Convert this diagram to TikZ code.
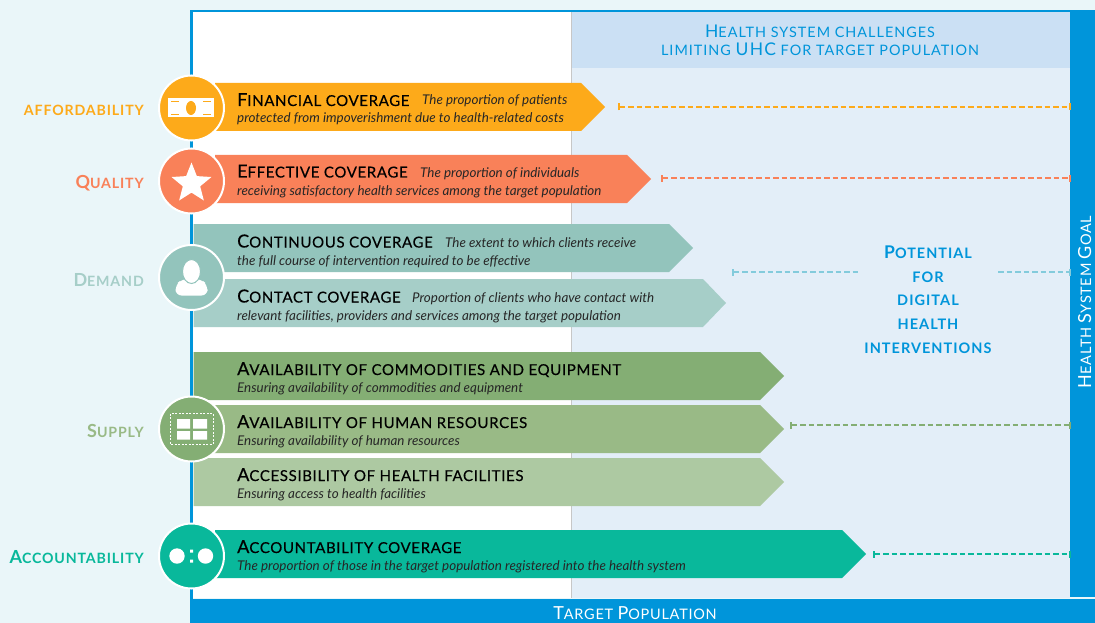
\documentclass[tikz,border=0pt]{standalone}
\usepackage{fontspec}
\usetikzlibrary{arrows.meta,shapes.geometric}
\setmainfont{Lato}
\newfontfamily\titlefont[LetterSpace=4.3,FakeBold=0.35]{Lato}
\newfontfamily\whitefont[LetterSpace=5]{Lato}
\newfontfamily\labelfont[LetterSpace=6,BoldFont={Lato Bold}]{Lato}
\newfontfamily\panelfont[LetterSpace=7]{Lato}
\newcommand\capt[2]{{\fontsize{18}{18}\selectfont #1}{\fontsize{15}{15}\selectfont #2}}
\newcommand\caph[2]{{\fontsize{17.5}{17.5}\selectfont #1}{\fontsize{14.4}{14.4}\selectfont #2}}
\newcommand\capl[2]{{\fontsize{18}{18}\selectfont #1}{\fontsize{14.2}{14.2}\selectfont #2}}
\newcommand\capw[2]{{\fontsize{18}{18}\selectfont #1}{\fontsize{14.5}{14.5}\selectfont #2}}
\newcommand\bandshape[5]{\fill[#1] (#2,#3) -- (#4,#3) -- (#5,#3+24) -- (#4,#3+48) -- (#2,#3+48) -- cycle;}
\definecolor{cBlue}{HTML}{0095DA}
\definecolor{cPage}{HTML}{EAF6F9}
\definecolor{cPanel}{HTML}{E3EEF8}
\definecolor{cHead}{HTML}{CBE0F4}
\definecolor{cOrange}{HTML}{FDAA1A}
\definecolor{cCoral}{HTML}{F98159}
\definecolor{cTeal}{HTML}{93C4BC}
\definecolor{cTealL}{HTML}{A6CEC8}
\definecolor{cGreen}{HTML}{84AE74}
\definecolor{cGreenM}{HTML}{99BA86}
\definecolor{cGreenL}{HTML}{ADC9A2}
\definecolor{cAcc}{HTML}{09B89B}
\definecolor{cDash}{HTML}{83CBDC}
\tikzset{
 titletext/.style={anchor=base west,inner sep=0pt,text=black,font=\titlefont},
 desctext/.style={anchor=base west,inner sep=0pt,text=black!85,font=\itshape\fontsize{13.4}{13.4}\selectfont},
 sidelabel/.style={anchor=base east,inner sep=0pt,font=\labelfont\bfseries},
 iconring/.style={circle,draw=white,line width=2pt,minimum size=65pt,inner sep=0pt},
 gapline/.style={dash pattern=on 5.5pt off 3pt,line width=2pt,{Bar[width=7pt,length=1.5pt]}-{Bar[width=7pt,length=1.5pt]}},
 gapfree/.style={dash pattern=on 5.5pt off 3pt,line width=2pt},
 panelline/.style={anchor=base,inner sep=0pt,text=cBlue,font=\panelfont\bfseries\fontsize{14.5}{14.5}\selectfont},
}
\begin{document}
\begin{tikzpicture}[x=1pt,y=-1pt]
\useasboundingbox (0,0) rectangle (1095,623);
\fill[cPage] (0,0) rectangle (1095,623);
\fill[white] (192,12) rectangle (571,598);
\fill[cPanel] (571,12) rectangle (1070,598);
\fill[cHead] (571,12) rectangle (1070,68);
\draw[black!22,line width=.7pt] (571,12) -- (571,598);
\fill[cBlue] (190,10) rectangle (1095,12);
\fill[cBlue] (190,10) rectangle (193,600);
\fill[cBlue] (1070,10) rectangle (1095,597);
\fill[cBlue] (190,599) rectangle (1095,623);
% bands
\bandshape{cOrange}{215}{83}{581}{605}
\bandshape{cCoral}{215}{155}{627}{651}
\bandshape{cTeal}{193.5}{224}{669}{693}
\bandshape{cTealL}{193.5}{279}{703}{726}
\bandshape{cGreen}{193.5}{352}{760}{784}
\bandshape{cGreenM}{193.5}{405}{760}{784}
\bandshape{cGreenL}{193.5}{458}{760}{784}
\bandshape{cAcc}{215}{530}{842}{866}
% band text
\node[titletext] (t1) at (237,106) {\capt{F}{INANCIAL COVERAGE}};
\node[desctext] (d1a) at (422,105) {The proportion of patients};
\node[desctext] (d1b) at (237,123) {protected from impoverishment due to health-related costs};
\node[titletext] (t2) at (237,177.5) {\capt{E}{FFECTIVE COVERAGE}};
\node[desctext] (d2a) at (420,177) {The proportion of individuals};
\node[desctext] (d2b) at (237,195) {receiving satisfactory health services among the target population};
\node[titletext] (t3) at (237,247.5) {\capt{C}{ONTINUOUS COVERAGE}};
\node[desctext] (d3a) at (445,247) {The extent to which clients receive};
\node[desctext] (d3b) at (237,265) {the full course of intervention required to be effective};
\node[titletext] (t4) at (237,302.5) {\capt{C}{ONTACT COVERAGE}};
\node[desctext] (d4a) at (412,302) {Proportion of clients who have contact with};
\node[desctext] (d4b) at (237,320) {relevant facilities, providers and services among the target population};
\node[titletext] (t5) at (237,375) {\capt{A}{VAILABILITY OF COMMODITIES AND EQUIPMENT}};
\node[desctext] (d5) at (237,392) {Ensuring availability of commodities and equipment};
\node[titletext] (t6) at (237,428) {\capt{A}{VAILABILITY OF HUMAN RESOURCES}};
\node[desctext] (d6) at (237,445) {Ensuring availability of human resources};
\node[titletext] (t7) at (237,481) {\capt{A}{CCESSIBILITY OF HEALTH FACILITIES}};
\node[desctext] (d7) at (237,498) {Ensuring access to health facilities};
\node[titletext] (t8) at (237,553) {\capt{A}{CCOUNTABILITY COVERAGE}};
\node[desctext] (d8) at (237,570) {The proportion of those in the target population registered into the health system};
% circles
\node[iconring,fill=cOrange] (c1) at (191.5,108) {};
\node[iconring,fill=cCoral] (c2) at (191.5,181) {};
\node[iconring,fill=cTeal] (c3) at (191.5,277.5) {};
\node[iconring,fill=cGreen] (c4) at (191.5,429) {};
\node[iconring,fill=cAcc] (c5) at (191.5,556) {};
% money icon
\fill[white] (168,98) rectangle (214,117);
\fill[cOrange] (191,108) ellipse [x radius=5,y radius=7];
\draw[cOrange,line width=.9pt] (171,101) -- (179,101) (203,101) -- (211,101) (171,114) -- (179,114) (203,114) -- (211,114);
% star icon
\node[star,star points=5,star point ratio=2.3,fill=white,minimum size=42pt,inner sep=0pt] (staricon) at (191.5,183.5) {};
% person icon
\fill[white,rounded corners=6pt] (175.5,295.5) -- (175.5,285) -- (182,279) -- (201,279) -- (207.5,285) -- (207.5,295.5) -- cycle;
\fill[white,draw=cTeal,line width=1pt] (191.5,271.5) ellipse [x radius=9,y radius=12];
% supply icon
\draw[white,line width=.9pt,dash pattern=on 2pt off 1.5pt] (170,413.5) rectangle (213,444);
\fill[white] (177,419) rectangle (190,428.5) (193,419) rectangle (207,428.5) (177,431) rectangle (190,439.5) (193,431) rectangle (207,439.5);
% accountability icon
\fill[white] (177,556) circle [radius=7.7] (205.5,556) circle [radius=7.7];
\fill[white] (190,549.5) rectangle (193,552.5) (190,559.5) rectangle (193,562.5);
% side labels
\node[sidelabel,text=cOrange] (l1) at (144,116) {\fontsize{14.2}{14.2}\selectfont AFFORDABILITY};
\node[sidelabel,text=cCoral] (l2) at (144,189) {\capl{Q}{UALITY}};
\node[sidelabel,text=cTealL] (l3) at (144,286) {\capl{D}{EMAND}};
\node[sidelabel,text=cGreenM] (l4) at (144,437) {\capl{S}{UPPLY}};
\node[sidelabel,text=cAcc] (l5) at (144,563) {\capl{A}{CCOUNTABILITY}};
% panel text
\node[anchor=base,inner sep=0pt,text=cBlue,font=\panelfont] (h1) at (820,38) {\caph{H}{EALTH SYSTEM CHALLENGES}};
\node[anchor=base,inner sep=0pt,text=cBlue,font=\panelfont] (h2) at (820,56) {{\fontsize{14.4}{14.4}\selectfont LIMITING }\fontsize{17.5}{17.5}\selectfont UHC{\fontsize{14.4}{14.4}\selectfont{} FOR TARGET POPULATION}};
\node[panelline] (p1) at (928,258) {\caph{P}{OTENTIAL}};
\node[panelline] (p2) at (928,282) {FOR};
\node[panelline] (p3) at (928,305) {DIGITAL};
\node[panelline] (p4) at (928,329) {HEALTH};
\node[panelline] (p5) at (928,353) {INTERVENTIONS};
% vertical and bottom labels
\node[anchor=base,inner sep=0pt,text=white,font=\whitefont,rotate=90] (goal) at (1091,302) {\capw{H}{EALTH }\capw{S}{YSTEM }\capw{G}{OAL}};
\node[anchor=base,inner sep=0pt,text=white,font=\whitefont] (pop) at (635,619) {\capw{T}{ARGET }\capw{P}{OPULATION}};
% gap connectors
\coordinate (g1a) at (618,107); \coordinate (g1b) at (1071,107);
\coordinate (g2a) at (661,178); \coordinate (g2b) at (1071,178);
\coordinate (g3a) at (732,272); \coordinate (g3b) at (858,272);
\coordinate (g3c) at (998,272); \coordinate (g3d) at (1071,272);
\coordinate (g4a) at (790,425); \coordinate (g4b) at (1071,425);
\coordinate (g5a) at (873,554); \coordinate (g5b) at (1071,554);
\draw[gapline,draw=cOrange] (g1a) -- (g1b);
\draw[gapline,draw=cCoral] (g2a) -- (g2b);
\draw[gapfree,draw=cDash,{Bar[width=7pt,length=1.5pt]}-] (g3a) -- (g3b);
\draw[gapfree,draw=cDash,-{Bar[width=7pt,length=1.5pt]}] (g3c) -- (g3d);
\draw[gapline,draw=cGreen] (g4a) -- (g4b);
\draw[gapline,draw=cAcc] (g5a) -- (g5b);
\end{tikzpicture}
\end{document}
